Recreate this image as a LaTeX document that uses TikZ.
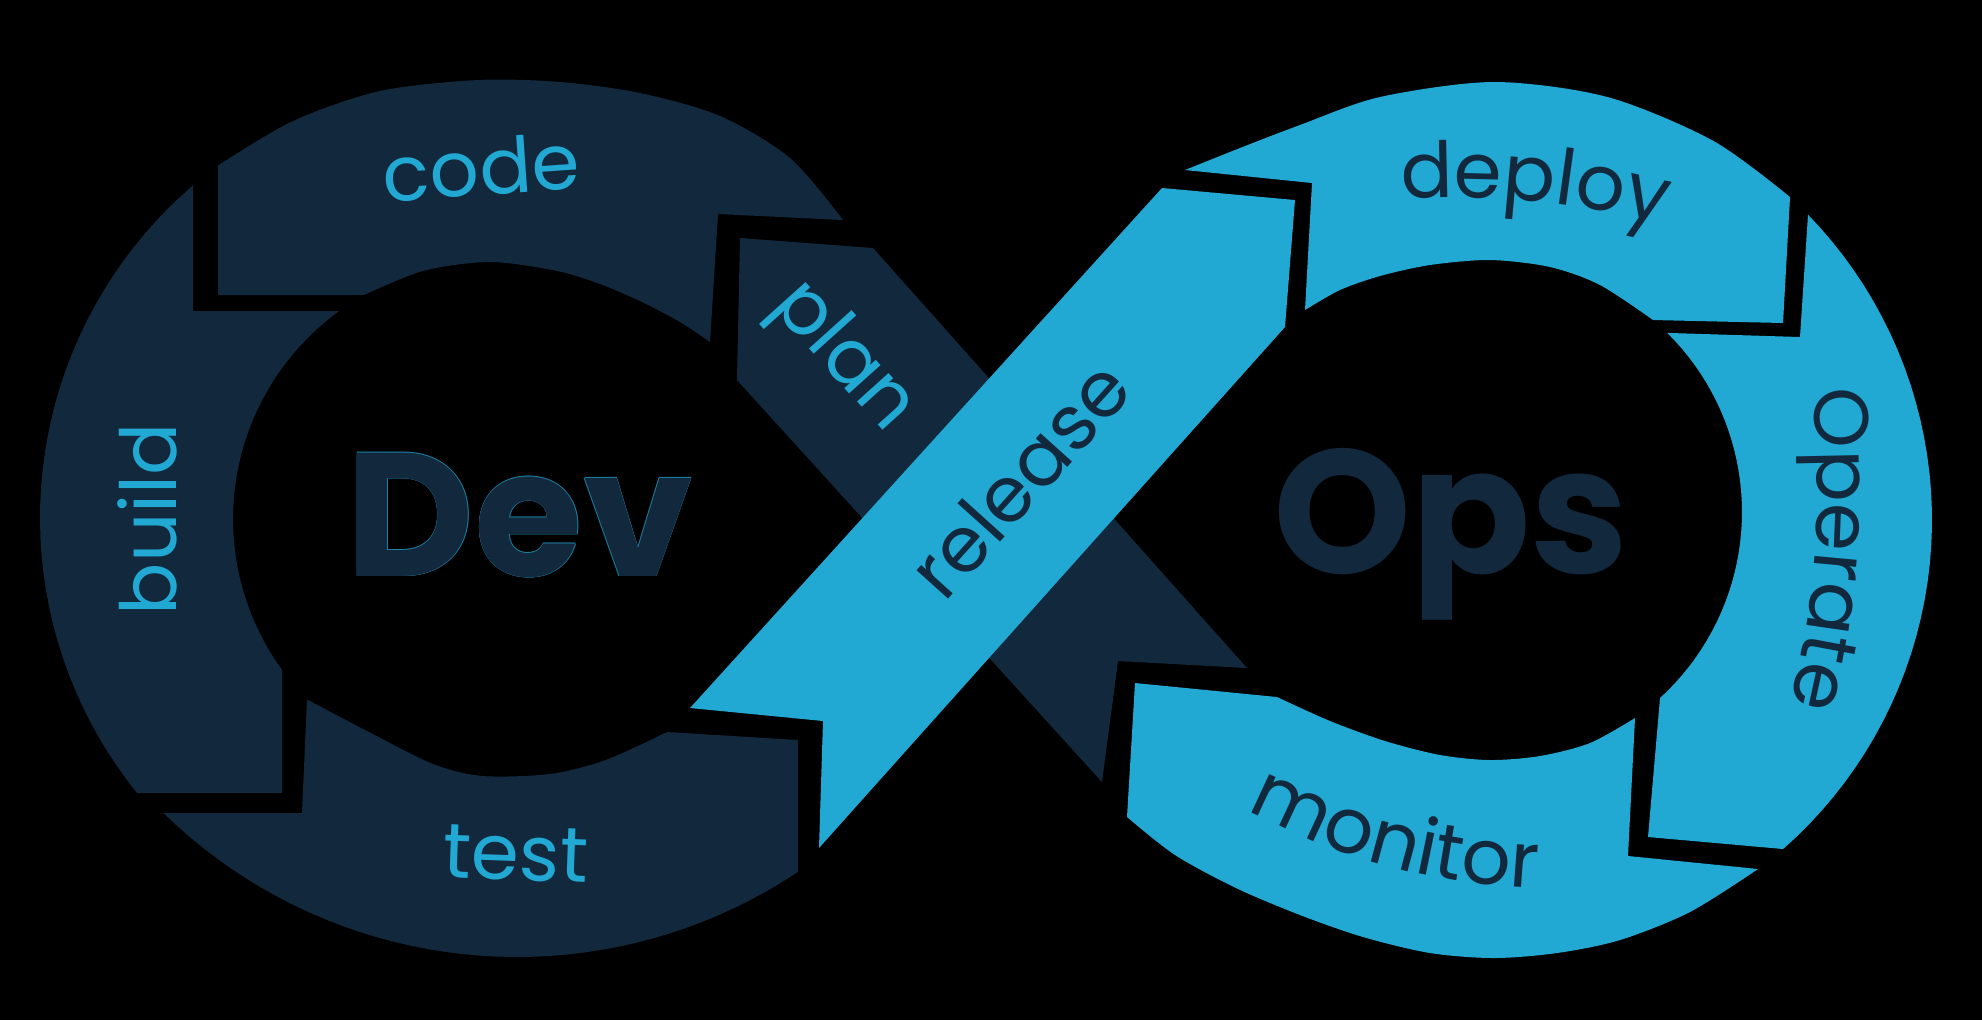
\documentclass[tikz,border=0pt]{standalone}
\usepackage{fontspec}
\setmainfont{Poppins}
\usetikzlibrary{decorations.text}
\definecolor{navy}{HTML}{12293D}
\definecolor{sky}{HTML}{21A9D4}
\newcommand\lblfont{\fontsize{22}{26}\selectfont}
\begin{document}
\begin{tikzpicture}[x=0.01cm,y=-0.01cm,
  lab/.style={inner sep=0pt,font=\lblfont},
  word/.style={inner sep=0pt,font=\fontsize{50}{60}\selectfont\bfseries},
  arcplot/.style={domain=#1,samples=40,variable=\t}]
\fill[black] (0,0) rectangle (1982,1020);
\useasboundingbox (0,0) rectangle (1982,1020);

% ===== Dev loop (navy) =====
% outer circle (478,518) r438, inner circle (490,519) r257
% code
\fill[navy] (218,165.5)
  -- plot[smooth] coordinates {(218,165.5) (293,121) (380,91) (478,80) (560,82) (640,93) (720,116) (790,158) (843,220)}
  -- (718,214) -- (710,342)
  -- plot[smooth] coordinates {(710,342) (680,322) (640,301) (600,284) (556.5,270.8) (490,262) (423.5,270.8) (364,295)}
  -- (218,295) -- cycle;
% build
\fill[navy] (193,185.4) -- (193,311) -- (339,311)
  -- plot[arcplot=234:144] ({490+257*cos(\t)},{519+257*sin(\t)})
  -- (282,670) -- (282,793) -- (137,793)
  -- plot[arcplot=141.1:229.4] ({478+438*cos(\t)},{518+438*sin(\t)})
  -- cycle;
% test
\fill[navy] (307,699.4) -- (302,813) -- (163.5,813)
  -- plot[arcplot=134.3:56.3] ({517+506*cos(\t)},{451+506*sin(\t)})
  -- (798,872) -- (798,740) -- (667,732)
  -- plot[smooth] coordinates {(667,732) (640,745) (600,762) (550,774) (483,776) (433,764) (367,731) (307,699.4)}
  -- cycle;
% plan band
\fill[navy] (740,238) -- (873,248) -- (1247,668) -- (1118,661) -- (1102,782) -- (737,380) -- cycle;

% ===== Ops loop (sky) =====
% outer circle (1494,520) r438, inner circle (1490,512) r252
% release band
\fill[sky] (690,708) -- (823,721) -- (819,848) -- (1285,327) -- (1295,200) -- (1162,188) -- cycle;
% deploy
\fill[sky] (1185,170) -- (1312,183) -- (1305,310)
  -- plot[smooth] coordinates {(1305,310) (1340,290) (1380,276) (1430,265) (1490,260) (1550,267) (1600,285) (1653,320)}
  -- (1783,323) -- (1790,197)
  -- plot[smooth] coordinates {(1790,197) (1713,140.7) (1607.4,97) (1494,82) (1380,97) (1300,125) (1240,148) (1185,170)}
  -- cycle;
% operate
\fill[sky] (1808,214.6) -- (1800,337) -- (1667.2,332.9)
  -- plot[arcplot=-45.3:47.6] ({1490+252*cos(\t)},{512+252*sin(\t)})
  -- (1660,698) -- (1648,837) -- (1783,849)
  -- plot[arcplot=48.7:-44.2] ({1494+438*cos(\t)},{520+438*sin(\t)})
  -- cycle;
% monitor
\fill[sky] (1635,718) -- (1628,856) -- (1758,869)
  -- plot[smooth] coordinates {(1758,869) (1690,912) (1620,940) (1557,953) (1494,958) (1430,953) (1363,937) (1300,915) (1236,888) (1175,855) (1127,817)}
  -- (1135,683) -- (1277,697)
  -- plot[smooth] coordinates {(1277,697) (1330,721) (1385,741) (1440,755) (1490,760) (1540,756) (1590,743) (1635,718)}
  -- cycle;

% ===== labels =====
\node[lab,text=sky,rotate=4] (code) at (481,167) {code};
\node[lab,text=sky,rotate=90] (build) at (147,519) {build};
\node[lab,text=sky,rotate=-2] (test) at (516,854) {test};
\node[lab,text=sky,rotate=-48] (plan) at (842,358) {plan};
\node[lab,text=navy,rotate=48] (release) at (1019,479) {release};

% thin light rim round the Dev lettering
\foreach \i/\dx/\dy in {1/0.6/0,2/-0.6/0,3/0/0.6,4/0/-0.6}
  \node[word,anchor=base,text=sky!70!navy] (devrim\i) at (520+\dx,576+\dy) {Dev};
\node[word,anchor=base,text=navy] (dev) at (520,576) {Dev};
\node[word,anchor=base,text=navy] (ops) at (1451,573) {Ops};

\path[decorate,decoration={text along path,text align=center,
  text={|\lblfont\color{navy}|deploy}}] (1395,199) to[bend left=8] (1670,226);
\path[decorate,decoration={text along path,text align=center,
  text={|\lblfont\color{navy}|Operate}}] (1812,390) to[bend left=9] (1790,705);
\path[decorate,decoration={text along path,text align=center,
  text={|\lblfont\color{navy}|monitor}}] (1240,806) to[bend right=12] (1545,889);
\end{tikzpicture}
\end{document}
